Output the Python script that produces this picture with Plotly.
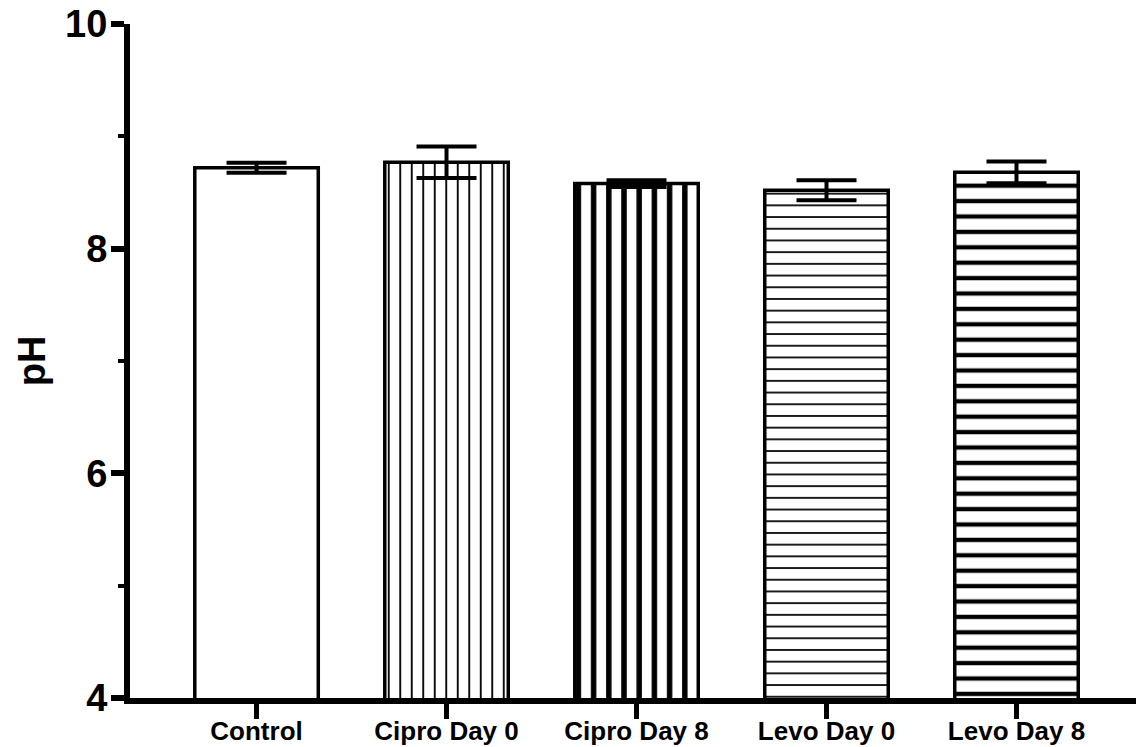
import plotly.graph_objects as go

categories = ["Control", "Cipro Day 0", "Cipro Day 8", "Levo Day 0", "Levo Day 8"]
ph_mean = [8.72, 8.77, 8.58, 8.52, 8.68]
ph_sd = [0.045, 0.14, 0.03, 0.09, 0.097]
y_tick_vals = [4, 6, 8, 10]
y_tick_text = ["4", "6", "8", "10"]

# pattern per bar: (shape, size, solidity)
pat_shape = ["", "|", "|", "-", "-"]
pat_size = [8, 11.5, 15.2, 11.7, 15.4]
pat_solidity = [0.2, 0.16, 0.36, 0.15, 0.28]

FONT = "Liberation Sans, Arial, sans-serif"

fig = go.Figure()
fig.add_trace(go.Bar(
    x=categories,
    y=ph_mean,
    width=0.65,
    marker=dict(
        color="white",
        line=dict(color="black", width=3.5),
        pattern=dict(shape=pat_shape, size=pat_size, solidity=pat_solidity,
                     fgcolor="black", bgcolor="white", fgopacity=1, fillmode="overlay"),
    ),
    error_y=dict(type="data", array=ph_sd, visible=True, color="black",
                 thickness=4, width=30),
    showlegend=False,
))

fig.update_layout(
    width=1136, height=747,
    margin=dict(l=130, r=0, t=24, b=49, autoexpand=False),
    paper_bgcolor="white", plot_bgcolor="white",
    font=dict(family=FONT, color="black"),
    bargap=0.35,
)

fig.update_xaxes(
    range=[-0.666, 4.629],
    automargin=False,
    showline=True, linewidth=6, linecolor="black",
    ticks="outside", ticklen=15, tickwidth=5, tickcolor="black",
    tickfont=dict(size=26, family=FONT, weight="bold"),
    ticklabelstandoff=-10,
    ticklabeloverflow="allow",
    showgrid=False, zeroline=False,
)

fig.update_yaxes(
    range=[4, 10],
    automargin=False,
    tickvals=y_tick_vals, ticktext=y_tick_text,
    showline=True, linewidth=6, linecolor="black",
    ticks="outside", ticklen=13, tickwidth=6, tickcolor="black",
    tickfont=dict(size=38, family=FONT, weight="bold"),
    ticklabelstandoff=-4,
    ticklabeloverflow="allow",
    minor=dict(dtick=1, tick0=4, ticks="outside", ticklen=6, tickwidth=4, tickcolor="black", showgrid=False),
    title=dict(text="pH", font=dict(size=38, family=FONT, weight="bold"), standoff=10),
    showgrid=False, zeroline=False,
)

fig.write_html("out.html",
               config={"displayModeBar": False},
               post_script="document.body.style.margin='0';document.body.style.padding='0';")
